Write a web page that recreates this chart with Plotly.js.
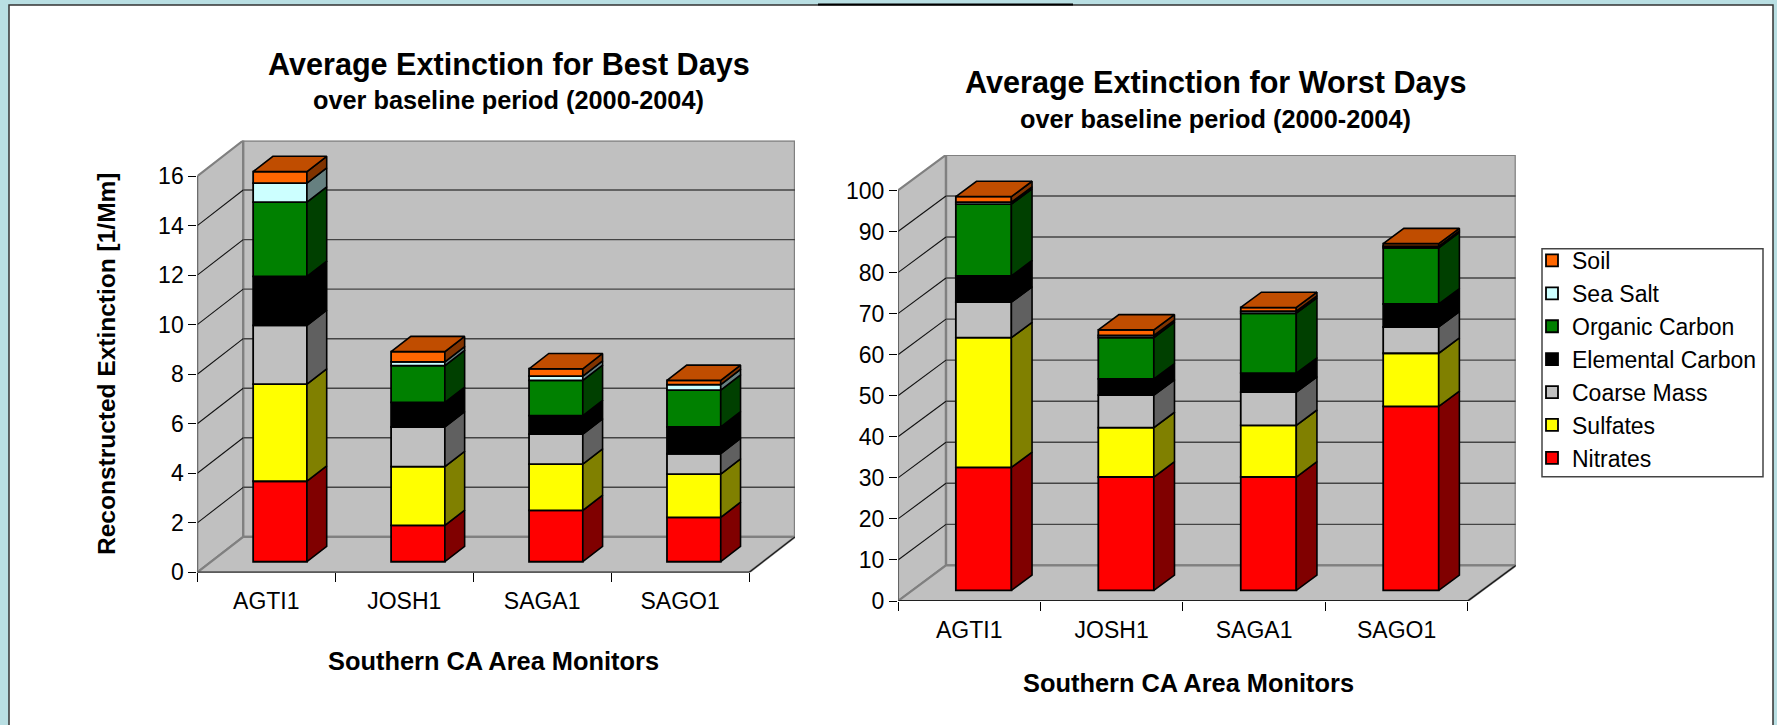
<!DOCTYPE html>
<html>
<head>
<meta charset="utf-8">
<script src="https://cdn.plot.ly/plotly-3.0.1.min.js"></script>
<style>html,body{margin:0;padding:0;background:#b9dfe3;overflow:hidden}</style>
</head>
<body>
<div id="chart" style="width:1777px;height:725px"></div>
<script>
const categories = ["AGTI1", "JOSH1", "SAGA1", "SAGO1"];
const seriesNames = ["Nitrates", "Sulfates", "Coarse Mass", "Elemental Carbon", "Organic Carbon", "Sea Salt", "Soil"];
const frontColors = ["#ff0000", "#ffff00", "#c0c0c0", "#000000", "#008000", "#ccffff", "#ff6600"];
const sideColors  = ["#800000", "#808000", "#606060", "#000000", "#004000", "#668080", "#803300"];
const topColor = "#c04d00";

const bestNitrates  = [3.25, 1.47, 2.07, 1.79];
const bestSulfates  = [3.92, 2.37, 1.87, 1.75];
const bestCoarse    = [2.37, 1.60, 1.21, 0.82];
const bestElemental = [1.98, 0.99, 0.75, 1.08];
const bestOrganic   = [3.00, 1.49, 1.42, 1.49];
const bestSeaSalt   = [0.76, 0.15, 0.17, 0.22];
const bestSoil      = [0.47, 0.41, 0.30, 0.17];

const worstNitrates  = [29.95, 27.6, 27.6, 44.8];
const worstSulfates  = [31.6, 12.05, 12.6, 12.95];
const worstCoarse    = [8.67, 7.9, 8.1, 6.4];
const worstElemental = [6.4, 3.94, 4.6, 5.6];
const worstOrganic   = [17.45, 10.1, 14.6, 13.7];
const worstSeaSalt   = [0.5, 0.5, 0.5, 0.4];
const worstSoil      = [1.35, 1.35, 0.9, 0.6];

const bestTicks = [0, 2, 4, 6, 8, 10, 12, 14, 16];
const worstTicks = [0, 10, 20, 30, 40, 50, 60, 70, 80, 90, 100];

const W = 1777, H = 725;
const px = v => v / W, py = v => 1 - v / H;

const traces = [];
const shapes = [
  {type:"rect", xref:"paper", yref:"paper", x0:px(9), x1:px(1773), y0:py(5), y1:-0.02, fillcolor:"#ffffff",
   line:{color:"#333333", width:1.5}, layer:"below"},
  {type:"line", xref:"paper", yref:"paper", x0:px(818), x1:px(1073), y0:py(4.5), y1:py(4.5), line:{color:"#000000", width:2}, layer:"below"},
  {type:"rect", xref:"paper", yref:"paper", x0:px(1542), x1:px(1763), y0:py(248.7), y1:py(476.7), fillcolor:"#ffffff",
   line:{color:"#444444", width:1.5}, layer:"below"}
];

function chart(o) {
  const {xa, ya, depthX:DX, depthY:DY, stacks, ticks, legend} = o;
  const xn = xa === "xaxis" ? "x" : "x2", yn = ya === "yaxis" ? "y" : "y2";
  const yMax = ticks[ticks.length - 1];
  const n = categories.length;
  const pathOf = pts => "M" + pts.map(p => p[0] + " " + p[1]).join("L");
  const add = (pts, fill, line, width, close) => shapes.push({type:"path", xref:xn, yref:yn, layer:"below",
    path: pathOf(pts) + (close ? "Z" : ""), fillcolor: fill || "rgba(0,0,0,0)", line:{color:line, width:width}});
  add([[0,0],[DX,DY],[DX,yMax+DY],[0,yMax]], "#c0c0c0", "#808080", 2.2, true);
  add([[DX,DY],[n+DX,DY],[n+DX,yMax+DY],[DX,yMax+DY]], "#c0c0c0", "#808080", 2.4, true);
  add([[0,0],[n,0],[n+DX,DY],[DX,DY]], "#c0c0c0", "#808080", 2.2, true);
  ticks.slice(1, -1).forEach(t => {
    add([[0,t],[DX,t+DY]], null, "#111111", 1.1);
    add([[DX,t+DY],[n+DX,t+DY]], null, "#444444", 1.4);
  });
  add([[n,0],[n+DX,DY]], null, "#111111", 1.1);
  add([[0,0],[n,0]], null, "#000000", 1.3);
  add([[0,0],[0,yMax]], null, "#555555", 1.3);

  const barW = 0.39, d0 = 0.3, d1 = 0.73;
  const cum = categories.map(() => 0);
  stacks.forEach((vals, s) => {
    const centers = categories.map((c, i) => i + 0.5 + d0 * DX);
    const bases = vals.map((v, i) => cum[i] + d0 * DY);
    traces.push({type:"bar", name:seriesNames[s], x:centers, y:vals, base:bases, width:barW,
      xaxis:xn, yaxis:yn, marker:{color:frontColors[s], line:{color:"#000000", width:1.8}},
      showlegend:legend, hoverinfo:"skip"});
    const sx = [], sy = [];
    vals.forEach((v, i) => {
      const r = i + 0.5 + barW / 2;
      const a = cum[i], b = cum[i] + v;
      const P = (d, y) => [r + d * DX, y + d * DY];
      [P(d0,a), P(d1,a), P(d1,b), P(d0,b), P(d0,a)].forEach(p => { sx.push(p[0]); sy.push(p[1]); });
      sx.push(null); sy.push(null);
      cum[i] = b;
    });
    traces.push({type:"scatter", mode:"lines", x:sx, y:sy, xaxis:xn, yaxis:yn, fill:"toself",
      fillcolor:sideColors[s], line:{color:"#000000", width:1.6}, showlegend:false, hoverinfo:"skip"});
  });
  const tx = [], ty = [];
  cum.forEach((t, i) => {
    const l = i + 0.5 - barW / 2, r = i + 0.5 + barW / 2;
    [[l,d0],[r,d0],[r,d1],[l,d1],[l,d0]].forEach(p => { tx.push(p[0] + p[1] * DX); ty.push(t + p[1] * DY); });
    tx.push(null); ty.push(null);
  });
  traces.push({type:"scatter", mode:"lines", x:tx, y:ty, xaxis:xn, yaxis:yn, fill:"toself",
    fillcolor:topColor, line:{color:"#000000", width:1.6}, showlegend:false, hoverinfo:"skip"});
}

const bestStacks = [bestNitrates, bestSulfates, bestCoarse, bestElemental, bestOrganic, bestSeaSalt, bestSoil];
const worstStacks = [worstNitrates, worstSulfates, worstCoarse, worstElemental, worstOrganic, worstSeaSalt, worstSoil];

const bestDX = 0.333, bestDY = 1.435, worstDX = 0.337, worstDY = 8.67;
chart({xa:"xaxis", ya:"yaxis", depthX:bestDX, depthY:bestDY, stacks:bestStacks, ticks:bestTicks, legend:false});
chart({xa:"xaxis2", ya:"yaxis2", depthX:worstDX, depthY:worstDY, stacks:worstStacks, ticks:worstTicks, legend:true});

const font = "Liberation Sans, Arial, sans-serif";
const xAxisBase = (domain, anchor, dx) => ({
  domain, anchor, range:[0, 4 + dx], showgrid:false, zeroline:false, showline:false,
  tickmode:"array", tickvals:[0.5,1.5,2.5,3.5], ticktext:categories,
  ticks:"outside", ticklen:8, tickcolor:"rgba(0,0,0,0)", tickfont:{family:font, size:23, color:"#000"},
  minor:{tickmode:"array", tickvals:[0,1,2,3,4], ticks:"outside", ticklen:9, tickcolor:"#000", tickwidth:1, showgrid:false}
});
const yAxisBase = (domain, anchor, tks, dy) => ({
  domain, anchor, range:[0, tks[tks.length-1] + dy], showgrid:false, zeroline:false, showline:false,
  tickmode:"array", tickvals:tks, ticktext:tks.map(String),
  ticks:"outside", ticklen:8, tickcolor:"#000", tickwidth:1, tickfont:{family:font, size:23, color:"#000"}
});

const ann = (text, x, y, size, angle) => ({text, xref:"paper", yref:"paper", x:px(x), y:py(y), xanchor:"center", yanchor:"middle",
  showarrow:false, textangle:angle || 0, font:{family:font, size, color:"#000", weight:700}});

const layout = {
  width:W, height:H, margin:{l:0, r:0, t:0, b:0, pad:0},
  paper_bgcolor:"#b9dfe3", plot_bgcolor:"rgba(0,0,0,0)",
  barmode:"overlay", shapes,
  xaxis:xAxisBase([px(197.3), px(795)], "y", bestDX),
  yaxis:yAxisBase([py(572.4), py(140.5)], "x", bestTicks, bestDY),
  xaxis2:xAxisBase([px(898), px(1515.8)], "y2", worstDX),
  yaxis2:yAxisBase([py(601), py(154.9)], "x2", worstTicks, worstDY),
  legend:{x:px(1532), y:py(239), xanchor:"left", yanchor:"top", traceorder:"reversed", bgcolor:"rgba(0,0,0,0)",
    borderwidth:0, font:{family:font, size:23, color:"#000"}, itemclick:false, itemdoubleclick:false},
  showlegend:true,
  annotations:[
    ann("Average Extinction for Best Days", 508.7, 64.7, 30.6),
    ann("over baseline period (2000-2004)", 508.7, 100, 25.3),
    ann("Average Extinction for Worst Days", 1215.6, 82.3, 30.6),
    ann("over baseline period (2000-2004)", 1215.6, 118.8, 25.3),
    ann("Southern CA Area Monitors", 493, 661, 25.4),
    ann("Southern CA Area Monitors", 1188.6, 683, 25.4),
    ann("Reconstructed Extinction [1/Mm]", 107, 364, 24.5, -90)
  ]
};
Plotly.newPlot("chart", traces, layout, {staticPlot:true, displayModeBar:false});
</script>
</body>
</html>
